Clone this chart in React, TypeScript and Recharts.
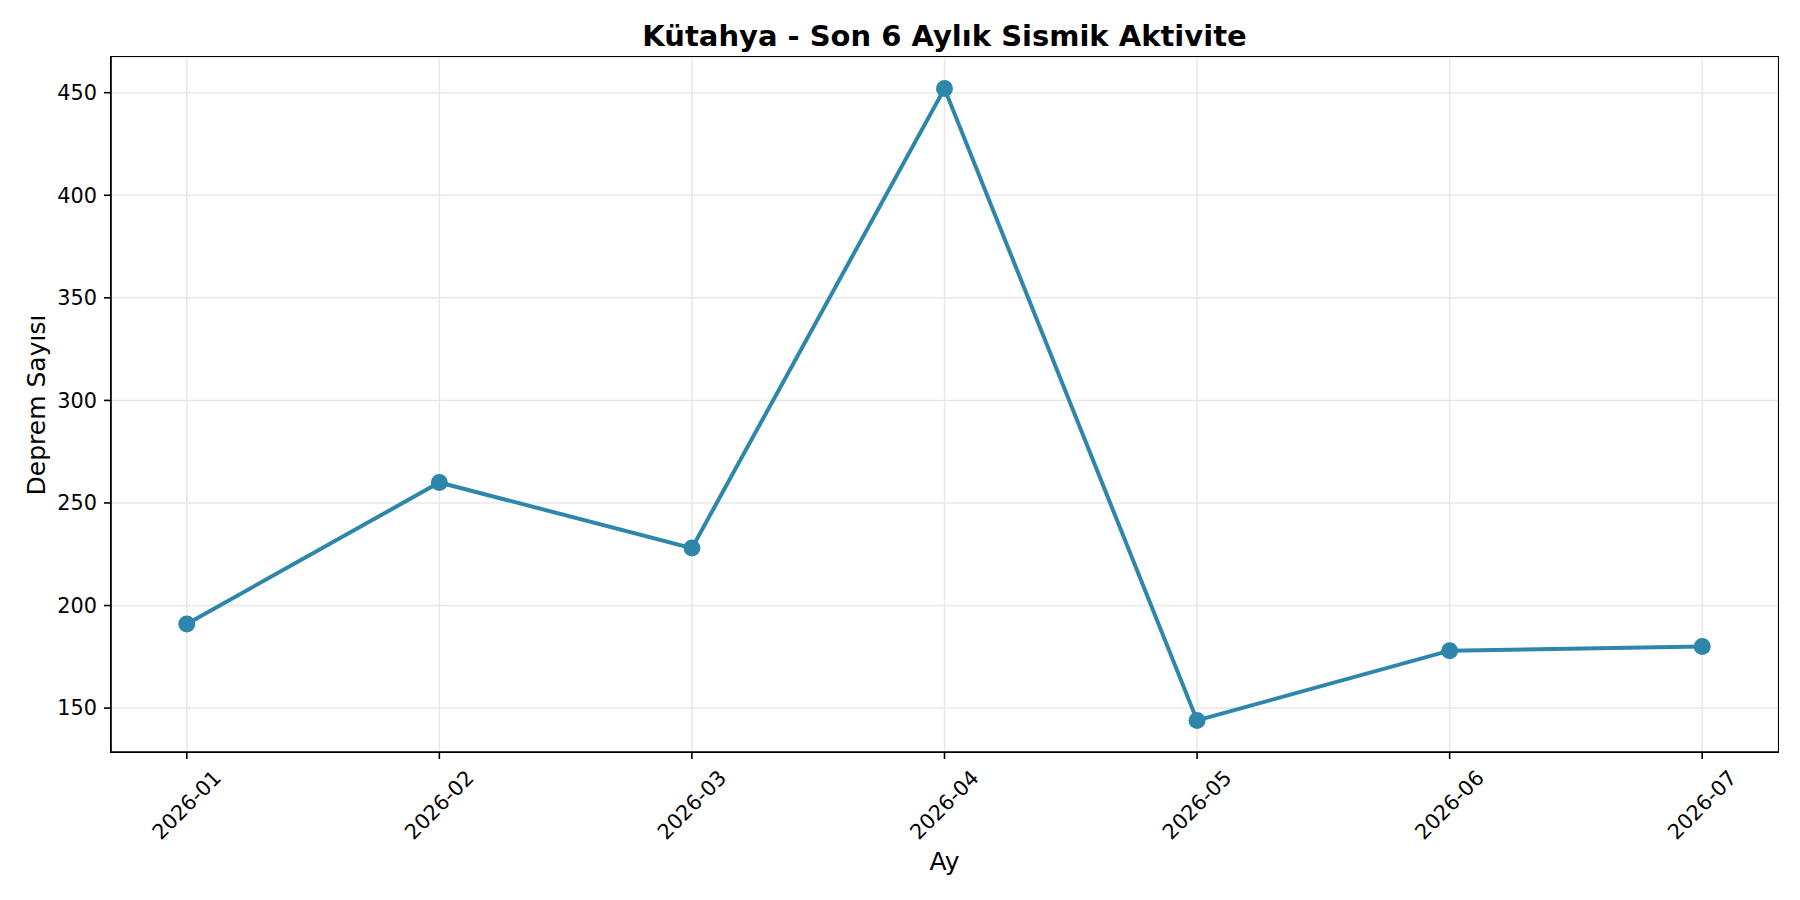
import React from 'react';
import { LineChart, Line, XAxis, YAxis, CartesianGrid } from 'recharts';

const months = ['2026-01', '2026-02', '2026-03', '2026-04', '2026-05', '2026-06', '2026-07'];
const quakeCounts = [191, 260, 228, 452, 144, 178, 180];
const yTicks = [150, 200, 250, 300, 350, 400, 450];

const FONT = '"DejaVu Sans", sans-serif';
const LINE_COLOR = '#2E86AB';

const data = months.map((m, i) => ({ idx: i, month: m, count: quakeCounts[i] }));
const xTicks = months.map((_, i) => i);

// matplotlib-style margins: 5% of the data range on each side
const yMin = Math.min(...quakeCounts);
const yMax = Math.max(...quakeCounts);
const yPad = (yMax - yMin) * 0.05;
const xPad = (months.length - 1) * 0.05;

// plot area box (pixels)
const PLOT = { left: 111, top: 57, right: 1778, bottom: 752 };

function MonthTick({ x, y, payload }: any) {
  const cy = y + 39;
  return (
    <text
      x={x}
      y={cy}
      transform={`rotate(-45, ${x}, ${cy})`}
      textAnchor="middle"
      dominantBaseline="central"
      fontFamily={FONT}
      fontSize={20.8}
      fill="#000"
    >
      {months[payload.value]}
    </text>
  );
}

export default function App() {
  return (
    <div style={{ position: 'absolute', left: 0, top: 0, width: 1800, height: 900, background: '#fff' }}>
      <LineChart
        width={1800}
        height={900}
        data={data}
        margin={{ top: PLOT.top, right: 1800 - PLOT.right, left: 0, bottom: 0 }}
      >
        <CartesianGrid stroke="#e8e8e8" strokeWidth={1.5} />
        <XAxis
          dataKey="idx"
          type="number"
          domain={[-xPad, months.length - 1 + xPad]}
          ticks={xTicks}
          allowDataOverflow
          height={900 - PLOT.bottom}
          tick={<MonthTick />}
          tickSize={7}
          tickMargin={7}
          axisLine={{ stroke: '#000', strokeWidth: 1.6 }}
          tickLine={{ stroke: '#000', strokeWidth: 1.6 }}
        />
        <YAxis
          type="number"
          domain={[yMin - yPad, yMax + yPad]}
          ticks={yTicks}
          allowDataOverflow
          width={PLOT.left}
          tickSize={7}
          tickMargin={7}
          tick={{ fontFamily: FONT, fontSize: 20.8, fill: '#000' }}
          axisLine={{ stroke: '#000', strokeWidth: 1.6 }}
          tickLine={{ stroke: '#000', strokeWidth: 1.6 }}
        />
        <Line
          type="linear"
          dataKey="count"
          stroke={LINE_COLOR}
          strokeWidth={4}
          dot={{ r: 8.5, fill: LINE_COLOR, stroke: 'none' }}
          activeDot={false}
          isAnimationActive={false}
        />
      </LineChart>
      {/* axes frame (top/right spines) */}
      <div
        style={{
          position: 'absolute',
          left: PLOT.left - 0.8,
          top: PLOT.top - 0.8,
          width: PLOT.right - PLOT.left + 1.6,
          height: PLOT.bottom - PLOT.top + 1.6,
          border: '1.6px solid #000',
          boxSizing: 'border-box',
          pointerEvents: 'none',
        }}
      />
      <div
        style={{
          position: 'absolute',
          left: (PLOT.left + PLOT.right) / 2,
          top: 36,
          transform: 'translate(-50%, -50%)',
          fontFamily: FONT,
          fontWeight: 'bold',
          fontSize: 29,
          whiteSpace: 'nowrap',
          color: '#000',
        }}
      >
        Kütahya - Son 6 Aylık Sismik Aktivite
      </div>
      <div
        style={{
          position: 'absolute',
          left: 36,
          top: (PLOT.top + PLOT.bottom) / 2,
          transform: 'translate(-50%, -50%) rotate(-90deg)',
          fontFamily: FONT,
          fontSize: 25,
          whiteSpace: 'nowrap',
          color: '#000',
        }}
      >
        Deprem Sayısı
      </div>
      <div
        style={{
          position: 'absolute',
          left: (PLOT.left + PLOT.right) / 2,
          top: 861,
          transform: 'translate(-50%, -50%)',
          fontFamily: FONT,
          fontSize: 25,
          whiteSpace: 'nowrap',
          color: '#000',
        }}
      >
        Ay
      </div>
    </div>
  );
}
